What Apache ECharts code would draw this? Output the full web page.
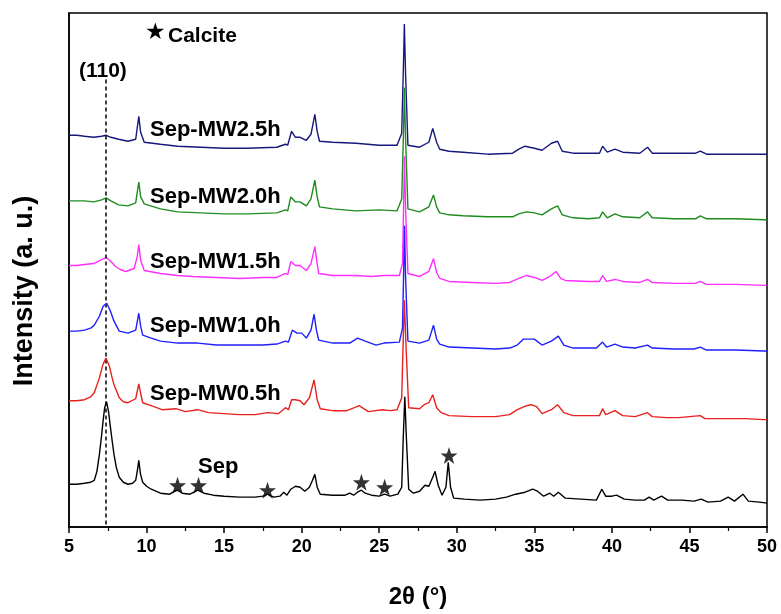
<!DOCTYPE html>
<html>
<head>
<meta charset="utf-8">
<script src="https://cdn.jsdelivr.net/npm/echarts@6/dist/echarts.min.js"></script>
<style>html,body{margin:0;padding:0;background:#fff}#c{width:781px;height:614px}</style>
</head>
<body>
<div id="c"></div>
<script>
// x tick labels
const xTicks = [5, 10, 15, 20, 25, 30, 35, 40, 45, 50];
const seriesNames = ['Sep-MW2.5h', 'Sep-MW2.0h', 'Sep-MW1.5h', 'Sep-MW1.0h', 'Sep-MW0.5h', 'Sep'];

// [2theta, intensity (a.u., stacked offsets included)]
const mw25 = [[5,394],[5.5,394],[6,393],[6.6,392],[7.1,393],[7.4,394],[7.7,392],[8.2,390],[8.8,388],[9.3,390],[9.5,413],[9.62,397],[9.85,387],[10.9,385],[12,383],[13.5,382],[15,381],[16.5,381],[18.4,382],[18.95,385],[19.1,384],[19.35,398],[19.6,392],[19.9,392],[20.3,389],[20.6,395],[20.85,415],[21,398],[21.15,388],[22,387],[23.5,386],[25,384],[26.15,384],[26.45,396],[26.57,470],[26.62,506],[26.7,455],[26.85,384],[27.6,382],[28.2,387],[28.45,401],[28.7,387],[28.9,380],[29.5,378],[30.4,377],[32,375],[33.6,376],[34,380],[34.4,383],[35,381],[35.5,379],[36.1,386],[36.5,388],[36.8,378],[37.5,376],[38.5,376],[39.2,376],[39.4,383],[39.7,377],[40.2,380],[40.7,377],[41.8,376],[42.3,382],[42.6,376],[44,376],[45.4,376],[45.7,378],[46.1,375],[48,375],[49.8,375],[50,375]];
const mw20 = [[5,328],[5.5,328],[6,328],[6.6,327],[7.1,329],[7.4,331],[7.7,328],[8.2,324],[8.8,323],[9.3,326],[9.5,347],[9.62,332],[9.85,325],[10.9,320],[12,317],[13.5,316],[15,315],[16.5,315],[18.4,316],[18.95,319],[19.1,318],[19.3,332],[19.6,327],[19.9,327],[20.3,323],[20.6,330],[20.85,349],[21,332],[21.15,322],[22,320],[23.5,318],[25,319],[26.15,318],[26.45,330],[26.57,400],[26.62,442],[26.7,390],[26.85,320],[27.6,317],[28.2,322],[28.5,334],[28.7,322],[28.9,316],[29.5,314],[30.4,313],[32,312],[33.6,312],[34,315],[34.5,317],[35,316],[35.5,314],[36.1,320],[36.5,323],[36.8,314],[37.5,311],[38.5,310],[39.2,311],[39.4,317],[39.7,311],[40.2,315],[40.7,312],[41.8,311],[42.3,317],[42.6,311],[44,310],[45.4,310],[45.7,313],[46.1,310],[48,310],[49.8,309],[50,309]];
const mw15 = [[5,263],[5.5,263],[6,264],[6.6,265],[6.85,267],[7.1,269],[7.4,271],[7.7,267],[8,262],[8.3,259],[8.65,257],[9.2,260],[9.4,272],[9.5,284],[9.62,268],[9.85,258],[10.9,255],[12,253],[13,252],[14.5,251],[16,250],[17.5,251],[18.4,251],[18.95,255],[19.1,254],[19.3,267],[19.6,263],[19.9,263],[20.3,258],[20.6,265],[20.85,282],[21,265],[21.1,255],[22,253],[23.5,253],[24.5,252],[25.3,253],[26.3,253],[26.5,265],[26.58,330],[26.63,373],[26.7,320],[26.85,255],[27.6,252],[28.2,257],[28.5,270],[28.7,256],[28.9,250],[29.5,247],[31,246],[32.5,245],[33.4,246],[34,250],[34.5,253],[35,251],[35.5,248],[36,252],[36.4,257],[36.7,250],[37,248],[38.5,247],[39.2,247],[39.4,253],[39.65,247],[40.2,249],[40.7,247],[41.8,246],[42.3,249],[42.6,246],[44,245],[45.4,245],[45.7,247],[46.1,244],[48,244],[49.8,243],[50,243]];
const mw10 = [[5,197],[5.5,197],[6,198],[6.4,200],[6.63,203],[6.96,212],[7.2,222],[7.43,225],[7.65,218],[7.9,207],[8.24,197],[8.8,195],[9.3,198],[9.5,215],[9.62,202],[9.75,193],[10.3,190],[10.9,187],[12,185],[13.3,185],[14.5,183],[16,183],[17.5,183],[18.4,184],[18.95,187],[19.15,186],[19.4,198],[19.7,195],[20,195],[20.3,190],[20.6,198],[20.8,214],[20.95,198],[21.1,188],[22,185],[23.1,185],[23.6,190],[24.1,187],[24.8,183],[25.3,185],[26.3,186],[26.5,200],[26.58,260],[26.63,303],[26.7,250],[26.85,187],[27.6,185],[28.2,188],[28.5,203],[28.7,189],[28.9,184],[29.5,181],[31,180],[32.5,179],[33.4,180],[33.9,183],[34.3,189],[35,189],[35.5,183],[36.1,187],[36.55,192],[36.9,183],[37.5,180],[39,180],[39.4,186],[39.65,181],[40.2,184],[40.7,181],[41.5,180],[42.3,183],[42.6,180],[44,179],[45.3,179],[45.7,181],[46.1,178],[48,178],[49.8,177],[50,177]];
const mw05 = [[5,127],[5.5,127],[6,128],[6.4,131],[6.63,135],[6.96,150],[7.18,163],[7.38,170],[7.6,162],[7.75,152],[7.9,143],[8.24,130],[8.5,126],[8.8,125],[9.3,129],[9.5,144],[9.65,132],[9.75,125],[10.3,122],[11,118],[11.9,119],[12.5,116],[13.3,118],[14,115],[15,114],[16,113],[17,113],[17.8,115],[18.5,114],[18.95,120],[19.15,118],[19.35,128],[19.6,128],[19.9,127],[20.15,123],[20.5,130],[20.8,148],[21,128],[21.2,119],[22,117],[22.9,117],[23.4,120],[23.7,122],[24.3,116],[25.2,118],[25.7,117],[26.15,118],[26.45,130],[26.55,190],[26.62,228],[26.72,185],[26.9,120],[27.6,119],[27.9,123],[28.2,125],[28.45,133],[28.7,120],[29,115],[29.5,112],[31,111],[32.5,111],[33.4,113],[33.9,118],[34.5,122],[34.8,123],[35.15,121],[35.5,114],[36.1,118],[36.5,123],[36.9,115],[37.5,112],[38.5,112],[39.2,112],[39.4,119],[39.6,113],[40.2,117],[40.7,112],[41.5,111],[42.3,115],[42.6,111],[43.5,110],[44.3,110],[45.7,112],[46,109],[47,109],[48.6,109],[49.8,108],[50,108]];
const sep = [[5,43],[5.5,43],[6,44],[6.4,45],[6.63,47],[6.8,56],[6.96,73],[7.1,92],[7.2,107],[7.3,120],[7.42,126],[7.55,116],[7.65,103],[7.78,87],[7.9,73],[8.05,60],[8.24,50],[8.5,45],[8.8,43],[9.1,44],[9.3,47],[9.4,56],[9.5,67],[9.6,54],[9.75,45],[10,41],[10.3,38],[10.9,34],[11.5,33],[11.8,36],[12,37],[12.3,34],[12.8,33],[13.3,37],[13.7,34],[14.3,32],[15,31],[16,30],[17,30],[17.5,31],[17.8,33],[18.2,30],[18.6,31],[18.85,35],[19.05,32],[19.3,38],[19.6,41],[19.9,40],[20.2,36],[20.5,40],[20.7,47],[20.85,53],[21,40],[21.2,33],[22,32],[22.8,32],[23.1,34],[23.35,32],[23.6,35],[23.85,37],[24.1,34],[24.5,32],[25,31],[25.35,33],[25.7,31],[26.2,33],[26.45,40],[26.55,90],[26.65,131],[26.75,90],[26.9,38],[27.2,34],[27.6,36],[27.95,42],[28.2,41],[28.45,50],[28.6,56],[28.8,42],[29.05,32],[29.3,40],[29.45,65],[29.6,40],[29.8,29],[30.5,28],[31.5,27],[32.5,28],[33.2,30],[33.8,33],[34.4,35],[34.9,38],[35.2,36],[35.6,31],[36,34],[36.25,31],[36.55,35],[37,29],[38,28],[39,27],[39.35,38],[39.6,31],[40,31],[40.3,32],[40.8,28],[41.5,27],[42.1,27],[42.4,30],[42.7,27],[43.2,31],[43.6,27],[44.5,27],[45.3,26],[45.75,28],[46.2,25],[47,26],[47.5,30],[47.9,26],[48.45,33],[48.8,26],[49.5,25],[50,24]];
// calcite reflections marked with stars [2theta, marker height]
const calcite = [[12.0,42],[13.35,42],[17.8,37],[23.85,45],[25.35,40],[29.5,72]];
// (110) reference line position
const ref110 = 7.4;

const colors = ['#17177d', '#1e8c1e', '#ff2eff', '#1f1fff', '#e8221e', '#000000'];
const datasets = [mw25, mw20, mw15, mw10, mw05, sep];

const starPath = 'path://M50,0 L61.8,35.1 L98.1,35.1 L68.8,56.7 L79.4,90.5 L50,69.5 L20.6,90.5 L31.2,56.7 L1.9,35.1 L38.2,35.1 Z';

const chart = echarts.init(document.getElementById('c'), null, {renderer: 'canvas'});
const series = datasets.map((d, i) => ({
  name: seriesNames[i],
  type: 'line',
  data: d,
  showSymbol: false,
  symbol: 'none',
  lineStyle: {color: colors[i], width: 1.4},
  z: 2 + i,
  animation: false
}));
series[5].markLine = {
  silent: true, symbol: 'none', animation: false,
  lineStyle: {color: '#000', type: [4, 3], width: 1.5},
  label: {show: false},
  data: [[{coord: [ref110, 450]}, {coord: [ref110, 0]}]]
};
series.push({
  type: 'scatter', data: calcite, symbol: starPath, symbolSize: 17,
  itemStyle: {color: '#000'}, z: 10, animation: false
});

const lblFont = {fontFamily: 'Liberation Sans, Arial, sans-serif', fontWeight: 'bold', fontSize: 22, fill: '#000'};
const labelPos = [[150,131],[150,198],[150,263],[150,327],[150,395],[198,468]];
const graphics = seriesNames.map((n, i) => ({
  type: 'text', left: labelPos[i][0], top: labelPos[i][1] - 12,
  style: Object.assign({text: n}, lblFont), z: 20
}));
graphics.push({type: 'text', left: 79, top: 61, style: Object.assign({text: '(110)'}, lblFont, {fontSize: 21}), z: 20});
graphics.push({type: 'text', left: 145, top: 22, style: {text: '★', fontFamily: 'DejaVu Sans', fontSize: 23, fill: '#000'}, z: 20});
graphics.push({type: 'text', left: 168, top: 26, style: Object.assign({text: 'Calcite'}, lblFont, {fontSize: 21}), z: 20});
graphics.push({type: 'text', x: 25, y: 291, rotation: Math.PI / 2,
  style: {text: 'Intensity (a. u.)', fontFamily: 'Liberation Sans, Arial, sans-serif', fontWeight: 'bold', fontSize: 27, fill: '#000', align: 'center', verticalAlign: 'middle'}, z: 20});

chart.setOption({
  animation: false,
  backgroundColor: '#fff',
  grid: {left: 69, right: 14, top: 13, bottom: 84, show: true, borderColor: '#000', borderWidth: 1.5, backgroundColor: 'transparent'},
  xAxis: {
    type: 'value', min: 5, max: 50, interval: 5,
    name: '2θ (°)', nameLocation: 'middle', nameGap: 58,
    nameTextStyle: {fontFamily: 'Liberation Sans, Arial, sans-serif', fontWeight: 'bold', fontSize: 24, color: '#000'},
    axisLine: {show: true, lineStyle: {color: '#000', width: 1.5}},
    axisTick: {show: true, inside: false, length: 6, lineStyle: {color: '#000', width: 1.5}},
    minorTick: {show: true, splitNumber: 2, length: 4, lineStyle: {color: '#000', width: 1.2}},
    axisLabel: {margin: 11, fontFamily: 'Liberation Sans Narrow, Liberation Sans, Arial, sans-serif', fontWeight: 'bold', fontSize: 18, color: '#000',
      formatter: v => xTicks.indexOf(v) >= 0 ? String(v) : ''},
    splitLine: {show: false}
  },
  yAxis: {
    type: 'value', min: 0, max: 517,
    axisLine: {show: true, lineStyle: {color: '#000', width: 1.5}},
    axisTick: {show: false}, axisLabel: {show: false}, splitLine: {show: false}
  },
  graphic: graphics,
  series: series
});
</script>
</body>
</html>
